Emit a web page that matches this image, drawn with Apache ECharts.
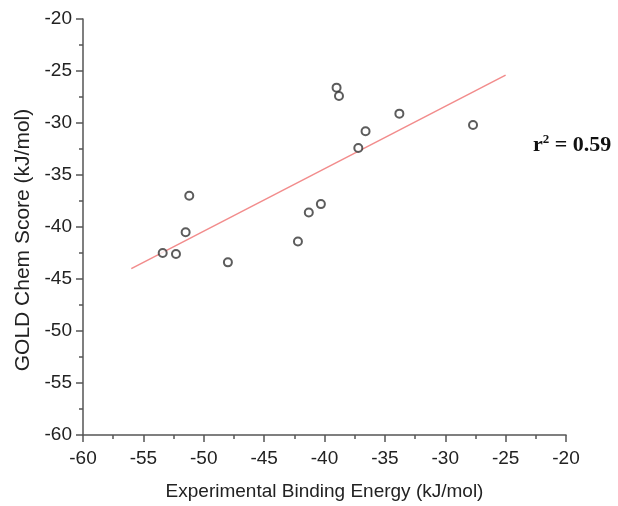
<!DOCTYPE html>
<html>
<head>
<meta charset="utf-8">
<script src="https://cdn.jsdelivr.net/npm/echarts@6/dist/echarts.min.js"></script>
<style>
html,body{margin:0;padding:0;background:#fff;}
#chart{width:618px;height:506px;}
</style>
</head>
<body>
<div id="chart"></div>
<script>
// Experimental binding energy (x) vs GOLD Chem Score (y), kJ/mol
var expEnergy = [-39.0, -38.8, -33.8, -27.7, -36.6, -37.2, -51.2, -40.3, -41.3, -51.5, -42.2, -53.4, -52.3, -48.0];
var goldScore = [-26.6, -27.4, -29.1, -30.2, -30.8, -32.4, -37.0, -37.8, -38.6, -40.5, -41.4, -42.5, -42.6, -43.4];
// Regression line end points
var fitX = [-56.0, -25.0];
var fitY = [-44.0, -25.4];
var xTicks = [-60, -55, -50, -45, -40, -35, -30, -25, -20];
var yTicks = [-60, -55, -50, -45, -40, -35, -30, -25, -20];
var rSquared = '0.59';

var pts = expEnergy.map(function(x, i){ return [x, goldScore[i]]; });
var fit = fitX.map(function(x, i){ return [x, fitY[i]]; });

var chart = echarts.init(document.getElementById('chart'), null, {renderer:'canvas'});
var axisCol = '#555';
var font = '"Liberation Sans", Arial, sans-serif';
var serif = '"Liberation Serif", "Times New Roman", serif';
chart.setOption({
  animation: false,
  backgroundColor: '#fff',
  grid: {left: 83, right: 52, top: 19, bottom: 70},
  xAxis: {
    type: 'value', min: xTicks[0], max: xTicks[xTicks.length-1], interval: 5,
    name: 'Experimental Binding Energy (kJ/mol)', nameLocation: 'middle', nameGap: 47,
    nameTextStyle: {fontFamily: font, fontSize: 19, color: '#222'},
    axisLine: {show: true, onZero: false, lineStyle: {color: axisCol, width: 1.5}},
    axisTick: {show: true, length: 7, lineStyle: {color: axisCol, width: 1.5}},
    minorTick: {show: true, splitNumber: 2, length: 4, lineStyle: {color: axisCol, width: 1.5}},
    axisLabel: {fontFamily: font, fontSize: 19, color: '#222', margin: 14},
    splitLine: {show: false}
  },
  yAxis: {
    type: 'value', min: yTicks[0], max: yTicks[yTicks.length-1], interval: 5,
    name: 'GOLD Chem Score (kJ/mol)', nameLocation: 'middle', nameGap: 48, nameRotate: 90,
    nameTextStyle: {fontFamily: font, fontSize: 21, color: '#222', padding: [0, 26, 0, 0]},
    axisLine: {show: true, onZero: false, lineStyle: {color: axisCol, width: 1.5}},
    axisTick: {show: true, length: 7, lineStyle: {color: axisCol, width: 1.5}},
    minorTick: {show: true, splitNumber: 2, length: 4, lineStyle: {color: axisCol, width: 1.5}},
    axisLabel: {fontFamily: font, fontSize: 19, color: '#222', margin: 11},
    splitLine: {show: false}
  },
  series: [
    {
      type: 'line', data: fit, symbol: 'none', z: 1,
      lineStyle: {color: '#f28c8c', width: 1.5}
    },
    {
      type: 'scatter', data: pts, symbol: 'circle', symbolSize: 8, z: 3,
      itemStyle: {color: '#fff', borderColor: '#333', borderWidth: 2}
    }
  ],
  graphic: [{
    type: 'text', left: 533, top: 133,
    style: {
      text: '{r|r}{s|2}{r| = ' + rSquared + '}',
      rich: {
        r: {fontFamily: serif, fontWeight: 'bold', fontSize: 22, lineHeight: 24, fill: '#111'},
        s: {fontFamily: serif, fontWeight: 'bold', fontSize: 13, lineHeight: 13, verticalAlign: 'top', padding: [0, 0, 5, 0], fill: '#111'}
      }
    }
  }]
});
</script>
</body>
</html>
